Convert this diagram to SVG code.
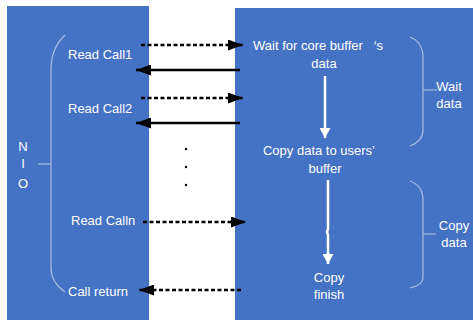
<svg xmlns="http://www.w3.org/2000/svg" width="473" height="320" viewBox="0 0 473 320">
<defs>
<style>
.t{font-family:"Liberation Sans",Arial,sans-serif;font-size:13px;fill:#FFFFFF;white-space:pre;}
.tm{text-anchor:middle;}
.brace{fill:none;stroke:#A9BDE3;stroke-width:1.2;}
.dash{fill:none;stroke:#000;stroke-width:2.5;stroke-dasharray:4 2.5;}
.solid{fill:none;stroke:#000;stroke-width:2.5;}
.wl{fill:none;stroke:#FFF;stroke-width:2.5;}
</style>
<marker id="ah" viewBox="0 0 15 11" refX="15" refY="5.5" markerWidth="15" markerHeight="11" markerUnits="userSpaceOnUse" orient="auto">
<path d="M0,0 L15,5.5 L0,11 z" fill="#000"/>
</marker>
<marker id="ahw" viewBox="0 0 10 11" refX="10" refY="5.5" markerWidth="10" markerHeight="11" markerUnits="userSpaceOnUse" orient="auto">
<path d="M0,0 L10,5.5 L0,11 z" fill="#FFF"/>
</marker>
</defs>
<rect width="473" height="320" fill="#FFFFFF"/>
<g id="client">
<rect x="7" y="6" width="142" height="314" fill="#4472C4"/>
<path class="brace" d="M65,35 Q51,48 51,70 L51,268 Q51,282 65,292"/>
<line class="brace" x1="38" y1="164" x2="51" y2="164"/>
<text class="t tm" x="23" y="151">N</text>
<text class="t tm" x="23" y="168">I</text>
<text class="t tm" x="23" y="188">O</text>
<text class="t" x="68" y="59">Read Call1</text>
<text class="t" x="68" y="113">Read Call2</text>
<text class="t" x="71" y="225">Read Calln</text>
<text class="t" x="68" y="296">Call return</text>
</g>
<g id="kernel">
<rect x="235" y="8" width="238" height="312" fill="#4472C4"/>
<text class="t" x="253" y="50">Wait for core buffer   ‘s</text>
<text class="t tm" x="324" y="68">data</text>
<text class="t tm" x="319" y="155">Copy data to users’</text>
<text class="t tm" x="325" y="173">buffer</text>
<text class="t tm" x="329" y="282">Copy</text>
<text class="t tm" x="329" y="299">finish</text>
<line class="wl" x1="325" y1="76" x2="325" y2="138" marker-end="url(#ahw)"/>
<path class="wl" d="M328,180 L328,229 L327,232 L328,235 L328,264" marker-end="url(#ahw)"/>
</g>
<g id="wait-brace">
<path class="brace" d="M410,37 Q423,42 423,58 L423,130 Q423,141 410,146"/>
<line class="brace" x1="423" y1="90" x2="437" y2="90"/>
<text class="t tm" x="449" y="91">Wait</text>
<text class="t tm" x="449" y="108">data</text>
</g>
<g id="copy-brace">
<path class="brace" d="M410,181 Q423,186 423,200 L423,278 Q423,285 410,288"/>
<line class="brace" x1="423" y1="234" x2="436" y2="234"/>
<text class="t tm" x="454" y="230">Copy</text>
<text class="t tm" x="454" y="247">data</text>
</g>
<g id="dots">
<circle cx="186" cy="149" r="1.2" fill="#000"/>
<circle cx="186" cy="167" r="1.2" fill="#000"/>
<circle cx="186" cy="185" r="1.2" fill="#000"/>
</g>
<g id="connectors">
<line class="dash" x1="141" y1="45" x2="243" y2="45" marker-end="url(#ah)"/>
<line class="solid" x1="240" y1="70" x2="136" y2="70" marker-end="url(#ah)"/>
<line class="dash" x1="141" y1="98" x2="243" y2="98" marker-end="url(#ah)"/>
<line class="solid" x1="240" y1="123" x2="136" y2="123" marker-end="url(#ah)"/>
<line class="dash" x1="143" y1="222" x2="246" y2="222" marker-end="url(#ah)"/>
<line class="dash" x1="241" y1="290" x2="139" y2="290" marker-end="url(#ah)"/>
</g>
</svg>
